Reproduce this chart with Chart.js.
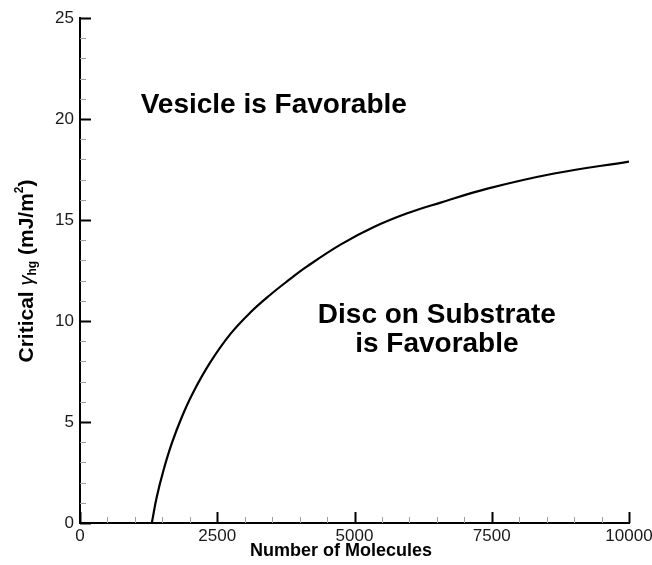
<!DOCTYPE html>
<html>
<head>
<meta charset="utf-8">
<script src="https://cdn.jsdelivr.net/npm/chart.js@4/dist/chart.umd.min.js"></script>
<style>
  html, body { margin: 0; padding: 0; background: #fff; }
  #wrap { width: 652px; height: 565px; position: relative; }
</style>
</head>
<body>
<div id="wrap"><canvas id="chart"></canvas></div>
<script>
// curve
const molecules = [1308, 1399, 1520, 1673, 1855, 2068, 2372, 2737, 3102, 3467, 3771, 4136, 4745, 5352, 5961, 6569, 7421, 8637, 10000];
const gammaCrit = [0, 1.30, 2.60, 3.95, 5.25, 6.50, 7.95, 9.35, 10.42, 11.30, 11.96, 12.70, 13.78, 14.65, 15.33, 15.86, 16.55, 17.30, 17.89];

const xTicks = [0, 2500, 5000, 7500, 10000];
const yTicks = [0, 5, 10, 15, 20, 25];

const FONT = "'Liberation Sans', Arial, Helvetica, sans-serif";

// annotations placed in data units
const notes = [
  { lines: ["Vesicle is Favorable"], x: 3530, y: 20.7 },
  { lines: ["Disc on Substrate", "is Favorable"], x: 6500, y: 10.3 },
];

// tecplot-like inward ticks, major + minor
const tickPlugin = {
  id: "inTicks",
  afterDraw(chart) {
    const ctx = chart.ctx;
    const xs = chart.scales.x, ys = chart.scales.y;
    const left = chart.chartArea.left, bottom = chart.chartArea.bottom;
    ctx.save();
    for (let v = 0; v <= 25; v++) {
      const py = ys.getPixelForValue(v);
      const major = v % 5 === 0;
      ctx.strokeStyle = major ? "#000" : "#a0a0a0";
      ctx.lineWidth = major ? 2 : 1;
      ctx.beginPath();
      ctx.moveTo(left, Math.round(py) + 0.5);
      ctx.lineTo(left + (major ? 11 : 6), Math.round(py) + 0.5);
      ctx.stroke();
    }
    for (let v = 0; v <= 10000; v += 500) {
      const px = xs.getPixelForValue(v);
      const major = v % 2500 === 0;
      ctx.strokeStyle = major ? "#000" : "#a0a0a0";
      ctx.lineWidth = major ? 2 : 1;
      ctx.beginPath();
      ctx.moveTo(Math.round(px) + 0.5, bottom);
      ctx.lineTo(Math.round(px) + 0.5, bottom - (major ? 11 : 6));
      ctx.stroke();
    }

    // region labels
    ctx.fillStyle = "#000";
    ctx.font = "bold 28px " + FONT;
    ctx.textAlign = "center";
    ctx.textBaseline = "middle";
    notes.forEach(n => {
      const px = xs.getPixelForValue(n.x);
      const py = ys.getPixelForValue(n.y);
      n.lines.forEach((t, i) => ctx.fillText(t, px, py + i * 29));
    });

    // x title
    ctx.font = "bold 18px " + FONT;
    ctx.fillText("Number of Molecules", 341, 551);

    // y title with sub/superscript
    const parts = [
      { t: "Critical ", f: "bold 21px " + FONT, dy: 0 },
      { t: "\u03b3", f: "italic 20px " + FONT, dy: 0 },
      { t: "hg", f: "bold 12px " + FONT, dy: 6 },
      { t: " (mJ/m", f: "bold 21px " + FONT, dy: 0 },
      { t: "2", f: "bold 12px " + FONT, dy: -7 },
      { t: ")", f: "bold 21px " + FONT, dy: 0 },
    ];
    let total = 0;
    parts.forEach(p => { ctx.font = p.f; p.w = ctx.measureText(p.t).width; total += p.w; });
    ctx.translate(27, 271);
    ctx.rotate(-Math.PI / 2);
    ctx.textAlign = "left";
    let cx = -total / 2;
    parts.forEach(p => {
      ctx.font = p.f;
      ctx.fillText(p.t, cx, p.dy);
      cx += p.w;
    });
    ctx.restore();
  }
};

new Chart(document.getElementById("chart"), {
  type: "line",
  data: {
    datasets: [{
      data: molecules.map((m, i) => ({ x: m, y: gammaCrit[i] })),
      borderColor: "#000",
      borderWidth: 2.2,
      pointRadius: 0,
      tension: 0.4,
      fill: false,
    }]
  },
  options: {
    responsive: true,
    maintainAspectRatio: false,
    animation: false,
    layout: { padding: { top: 18, right: 23, left: 0, bottom: 0 } },
    plugins: { legend: { display: false }, tooltip: { enabled: false } },
    scales: {
      x: {
        type: "linear",
        min: 0,
        max: 10000,
        afterBuildTicks: s => { s.ticks = xTicks.map(v => ({ value: v })); },
        afterFit: s => { s.height = 42; s.paddingLeft = 0; s.paddingRight = 0; },
        grid: { display: false, drawTicks: false },
        border: { display: true, color: "#000", width: 2 },
        ticks: {
          color: "#1a1a1a",
          padding: 3,
          maxRotation: 0,
          callback: v => String(v),
          font: { family: FONT, size: 17 },
        },
      },
      y: {
        min: 0,
        max: 25,
        afterBuildTicks: s => { s.ticks = yTicks.map(v => ({ value: v })); },
        afterFit: s => { s.width = 80; },
        grid: { display: false, drawTicks: false },
        border: { display: true, color: "#000", width: 2 },
        ticks: {
          color: "#1a1a1a",
          padding: 6,
          callback: v => String(v),
          font: { family: FONT, size: 17 },
        },
      },
    },
  },
  plugins: [tickPlugin],
});
</script>
</body>
</html>
